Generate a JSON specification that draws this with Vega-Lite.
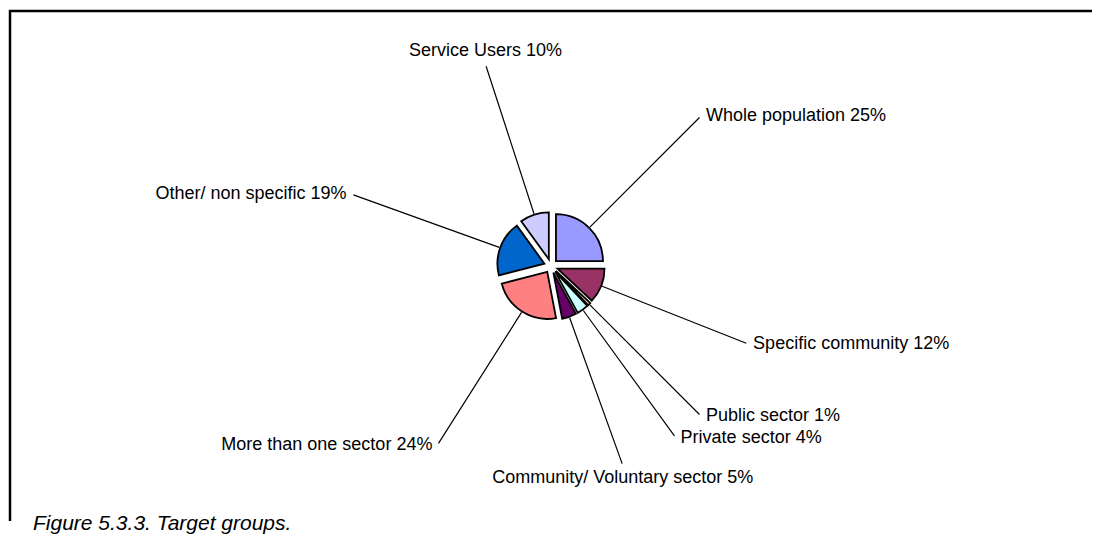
{
  "$schema": "https://vega.github.io/schema/vega-lite/v6.json",
  "width": 1082,
  "height": 510,
  "autosize": "none",
  "padding": {"left": 10, "top": 11, "right": 10, "bottom": 26},
  "background": "white",
  "view": {"stroke": "black", "strokeWidth": 2.5, "strokeDash": [1082, 1592, 520]},
  "config": {
    "view": {"stroke": "black", "strokeWidth": 2.5, "strokeDash": [1082, 1592, 520]},
    "text": {"font": "Liberation Sans"}
  },
  "title": {
    "text": "Figure 5.3.3. Target groups.",
    "orient": "bottom",
    "anchor": "start",
    "frame": "group",
    "font": "Liberation Sans",
    "fontStyle": "italic",
    "fontWeight": "normal",
    "fontSize": 21,
    "color": "black",
    "baseline": "alphabetic",
    "offset": 9,
    "dx": 23
  },
  "data": {
    "values": [
      {"group": "Whole population", "share": 0.25, "idx": 1},
      {"group": "Specific community", "share": 0.12, "idx": 2},
      {"group": "Public sector", "share": 0.01, "idx": 3},
      {"group": "Private sector", "share": 0.04, "idx": 4},
      {"group": "Community/ Voluntary sector", "share": 0.05, "idx": 5},
      {"group": "More than one sector", "share": 0.24, "idx": 6},
      {"group": "Other/ non specific", "share": 0.19, "idx": 7},
      {"group": "Service Users", "share": 0.10, "idx": 8}
    ]
  },
  "encoding": {
    "theta": {"field": "share", "type": "quantitative", "stack": true},
    "order": {"field": "idx", "type": "quantitative"}
  },
  "layer": [
    {
      "mark": {
        "type": "arc",
        "radius": 47,
        "stroke": "black",
        "strokeWidth": 1.8,
        "x": {"expr": "width/2 + 7*sin(PI*(datum.share_start + datum.share_end))"},
        "y": {"expr": "height/2 - 7*cos(PI*(datum.share_start + datum.share_end))"}
      },
      "encoding": {
        "color": {
          "field": "group",
          "type": "nominal",
          "legend": null,
          "scale": {
            "domain": ["Whole population", "Specific community", "Public sector", "Private sector", "Community/ Voluntary sector", "More than one sector", "Other/ non specific", "Service Users"],
            "range": ["#9999FF", "#993366", "#FFFFCC", "#CCFFFF", "#660066", "#FF8080", "#0066CC", "#CCCCFF"]
          }
        }
      }
    },
    {
      "mark": {
        "type": "arc",
        "filled": false,
        "stroke": "black",
        "strokeWidth": 1.2,
        "radius": 210,
        "radius2": 55,
        "padAngle": 3.2
      },
      "encoding": {
        "detail": {"field": "group", "type": "nominal"}
      }
    },
    {
      "mark": {
        "type": "text",
        "radius": 212,
        "fontSize": 18,
        "color": "black",
        "text": {"expr": "datum.group + ' ' + format(datum.share, '.0%')"},
        "align": {"expr": "abs(sin(PI*(datum.share_start + datum.share_end))) < 0.4 ? 'center' : (sin(PI*(datum.share_start + datum.share_end)) > 0 ? 'left' : 'right')"},
        "baseline": {"expr": "abs(sin(PI*(datum.share_start + datum.share_end))) < 0.4 ? (cos(PI*(datum.share_start + datum.share_end)) > 0 ? 'bottom' : 'top') : 'middle'"},
        "dx": {"expr": "abs(sin(PI*(datum.share_start + datum.share_end))) < 0.4 ? 0 : (sin(PI*(datum.share_start + datum.share_end)) > 0 ? 5 : -5)"},
        "dy": {"expr": "abs(sin(PI*(datum.share_start + datum.share_end))) < 0.4 ? (cos(PI*(datum.share_start + datum.share_end)) > 0 ? -4 : 4) : 0"}
      },
      "encoding": {
        "detail": {"field": "group", "type": "nominal"}
      }
    }
  ]
}
